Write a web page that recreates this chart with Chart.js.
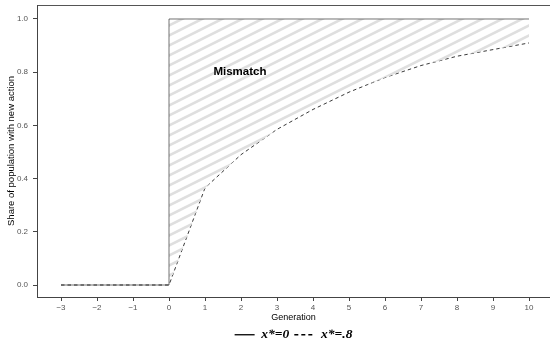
<!DOCTYPE html>
<html>
<head>
<meta charset="utf-8">
<script src="https://cdn.jsdelivr.net/npm/chart.js@4.4.1/dist/chart.umd.min.js"></script>
<style>
  html, body { margin: 0; padding: 0; background: #fff; }
  #wrap { width: 550px; height: 341px; }
</style>
</head>
<body>
<div id="wrap"><canvas id="grafico"></canvas></div>
<script>
const generaciones = [-3, -2, -1, 0, 1, 2, 3, 4, 5, 6, 7, 8, 9, 10];
const shareX0 = [0, 0, 0, 1, 1, 1, 1, 1, 1, 1, 1, 1, 1, 1];
const shareX08 = [0, 0, 0, 0, 0.365, 0.49, 0.585, 0.66, 0.725, 0.78, 0.825, 0.86, 0.885, 0.91];
const etiquetas = ["x*=0", "x*=.8"];
const textoMismatch = "Mismatch";
const posMismatch = { x: 1.97, y: 0.8 };

// hatch pattern for the mismatch area
const tile = document.createElement("canvas");
tile.width = 20;
tile.height = 10;
const tctx = tile.getContext("2d");
tctx.strokeStyle = "#dfdfdf";
tctx.lineWidth = 2.6;
[-10, 0, 10].forEach(off => {
    tctx.beginPath();
    tctx.moveTo(-4, 10 + off + 2);
    tctx.lineTo(24, off - 2);
    tctx.stroke();
});
const rayado = tctx.createPattern(tile, "repeat");

const mismatchLabel = {
    id: "mismatchLabel",
    afterDatasetsDraw(chart) {
        const { ctx, scales } = chart;
        ctx.save();
        ctx.font = "bold 11.5px 'Liberation Sans', Arial, sans-serif";
        ctx.fillStyle = "#000";
        ctx.textAlign = "center";
        ctx.textBaseline = "middle";
        ctx.fillText(textoMismatch, scales.x.getPixelForValue(posMismatch.x), scales.y.getPixelForValue(posMismatch.y));
        ctx.restore();
    }
};

Chart.defaults.font.family = "'Liberation Sans', Arial, sans-serif";

const ctx = document.getElementById("grafico").getContext("2d");
new Chart(ctx, {
    type: "line",
    data: {
        datasets: [{
            label: etiquetas[0],
            data: generaciones.map((g, i) => ({ x: g, y: shareX0[i] })),
            borderColor: "rgba(0,0,0,0.55)",
            borderWidth: 1,
            stepped: "before",
            pointRadius: 0,
            fill: "+1",
            backgroundColor: rayado
        }, {
            label: etiquetas[1],
            data: generaciones.map((g, i) => ({ x: g, y: shareX08[i] })),
            borderColor: "#222",
            borderWidth: 0.9,
            borderDash: [3.5, 3],
            pointRadius: 0,
            fill: false
        }]
    },
    options: {
        responsive: true,
        maintainAspectRatio: false,
        animation: false,
        layout: { padding: 0 },
        plugins: {
            legend: {
                position: "bottom",
                fullSize: false,
                maxHeight: 18,
                labels: {
                    usePointStyle: true,
                    pointStyle: "line",
                    pointStyleWidth: 20,
                    boxHeight: 12,
                    padding: 5,
                    color: "#000",
                    font: { family: "'Liberation Serif', serif", size: 13.5, weight: "bold", style: "italic" },
                    generateLabels: chart => chart.data.datasets.map((ds, i) => ({
                        text: ds.label,
                        datasetIndex: i,
                        fontColor: "#000",
                        strokeStyle: "#000",
                        fillStyle: "#000",
                        lineWidth: 1.3,
                        lineDash: i === 1 ? [4, 3] : [],
                        pointStyle: "line"
                    }))
                }
            },
            tooltip: { enabled: false }
        },
        scales: {
            x: {
                type: "linear",
                min: -3.667,
                max: 10.583,
                afterFit: s => { s.height = 26; },
                border: { color: "#444", width: 1 },
                grid: { display: true, drawOnChartArea: false, tickLength: 4, color: "#444" },
                ticks: {
                    stepSize: 1,
                    includeBounds: false,
                    color: "#555",
                    padding: 2,
                    maxRotation: 0,
                    font: { size: 8 },
                    callback: v => String(v).replace("-", "\u2212")
                },
                title: { display: true, text: "Generation", color: "#000", font: { size: 9 }, padding: 0 }
            },
            x2: {
                type: "linear",
                position: "top",
                min: -3.667,
                max: 10.583,
                afterFit: s => { s.height = 5; },
                border: { color: "#555", width: 1 },
                grid: { display: false },
                ticks: { display: false }
            },
            y: {
                min: -0.0451,
                max: 1.0526,
                afterFit: s => { s.width = 37; s.paddingTop = 0; s.paddingBottom = 0; },
                border: { color: "#444", width: 1 },
                grid: { display: true, drawOnChartArea: false, tickLength: 4, color: "#444" },
                ticks: {
                    stepSize: 0.2,
                    includeBounds: false,
                    color: "#555",
                    padding: 5,
                    font: { size: 8, lineHeight: 0.2 },
                    callback: v => v.toFixed(1)
                },
                title: { display: true, text: "Share of population with new action", color: "#000", font: { size: 9.5 }, padding: { top: 6, bottom: 0 } }
            }
        }
    },
    plugins: [mismatchLabel]
});
</script>
</body>
</html>
